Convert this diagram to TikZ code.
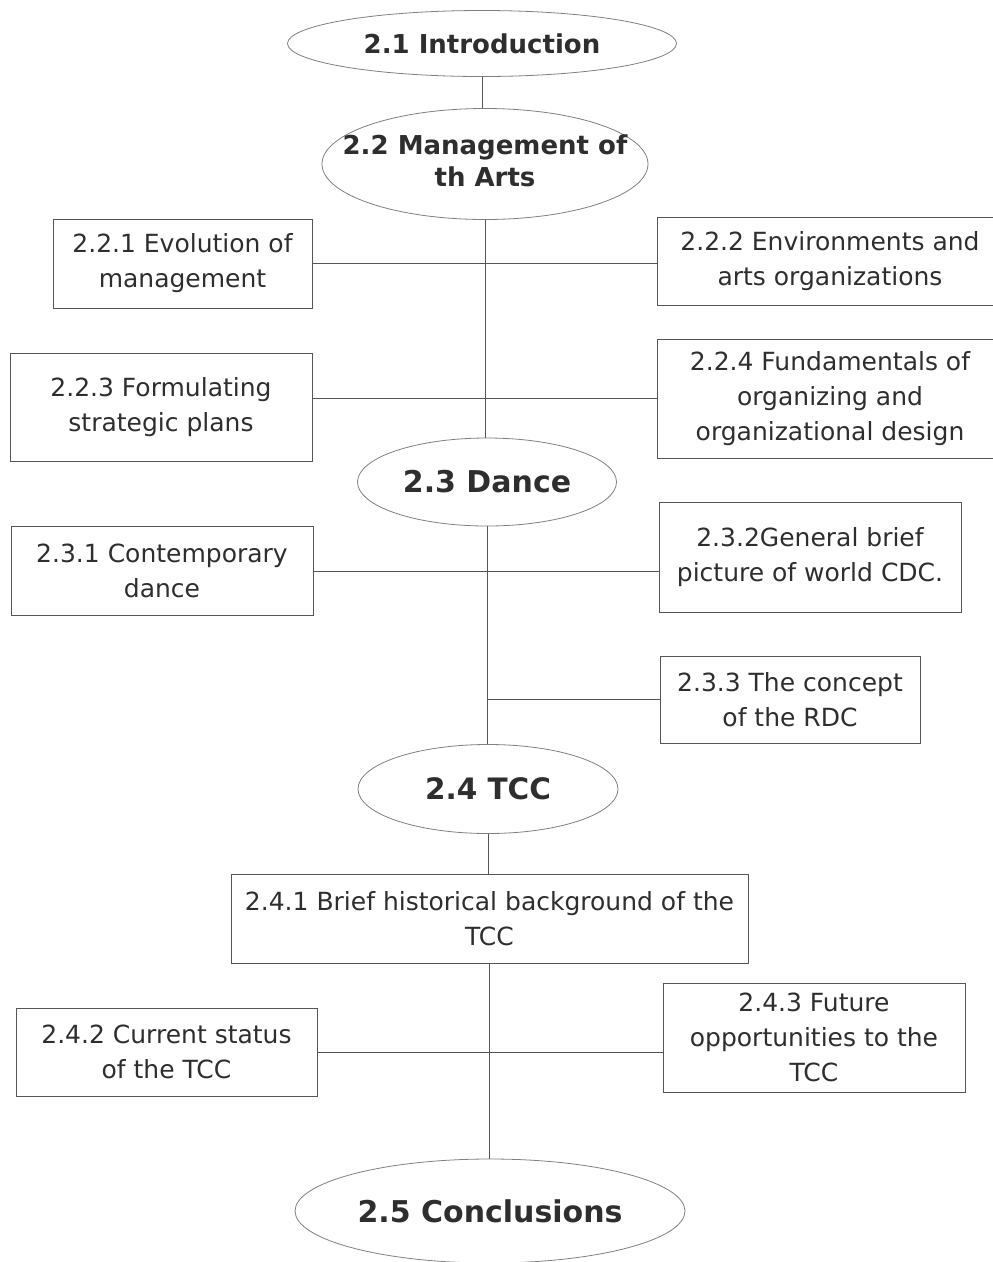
\documentclass[tikz,border=0pt]{standalone}
\usepackage{fontspec}
\setmainfont{DejaVu Sans}
\usetikzlibrary{shapes.geometric}
\definecolor{txt}{HTML}{2E2E2E}
\definecolor{ln}{HTML}{555555}
\definecolor{ell}{HTML}{808080}
\begin{document}
\begin{tikzpicture}[x=1pt,y=-1pt,
  boxnode/.style={draw=ln, line width=0.9pt, rectangle, inner sep=0pt, align=center, text=txt, font=\fontsize{25}{35}\selectfont},
  ovalnode/.style={draw=ell, line width=0.8pt, ellipse, inner sep=0pt, text=txt},
  conn/.style={draw=ln, line width=0.9pt}]
\clip (0,0) rectangle (993,1262);
\fill[white] (0,0) rectangle (993,1262);

% ellipses
\node[ovalnode, minimum width=389pt, minimum height=66pt, font=\bfseries\fontsize{26}{33}\selectfont] (e21) at (482,43.5) {\makebox[0pt]{2.1 Introduction}};
\node[ovalnode, minimum width=326pt, minimum height=111pt, font=\bfseries\fontsize{26}{33}\selectfont] (e22) at (485,164) {\makebox[0pt]{\begin{tabular}{@{}c@{}}2.2 Management of\\[-1pt] th Arts\end{tabular}}};
\node[ovalnode, minimum width=259pt, minimum height=88pt, font=\bfseries\fontsize{30}{36}\selectfont] (e23) at (487,482) {\makebox[0pt]{2.3 Dance}};
\node[ovalnode, minimum width=260pt, minimum height=89pt, font=\bfseries\fontsize{29.5}{36}\selectfont] (e24) at (488,789) {\makebox[0pt]{2.4 TCC}};
\node[ovalnode, minimum width=390pt, minimum height=104pt, font=\bfseries\fontsize{30}{36}\selectfont] (e25) at (490,1211) {\makebox[0pt]{2.5 Conclusions}};

% boxes
\node[boxnode, minimum width=259pt, minimum height=89pt] (b221) at (182.5,263.5) {2.2.1 Evolution of\\management};
\node[boxnode, minimum width=346pt, minimum height=88pt] (b222) at (830,261) {2.2.2 Environments and\\arts organizations};
\node[boxnode, minimum width=302pt, minimum height=108pt] (b223) at (161,407) {2.2.3 Formulating\\strategic plans};
\node[boxnode, minimum width=346pt, minimum height=119pt] (b224) at (830,398.5) {2.2.4 Fundamentals of\\organizing and\\organizational design};
\node[boxnode, minimum width=302pt, minimum height=89pt] (b231) at (162,571) {2.3.1 Contemporary\\dance};
\node[boxnode, minimum width=302pt, minimum height=110pt] (b232) at (810,557) {2.3.2General brief\\picture of world CDC.};
\node[boxnode, minimum width=260pt, minimum height=87pt] (b233) at (790,699.5) {2.3.3 The concept\\of the RDC};
\node[boxnode, minimum width=517pt, minimum height=89pt] (b241) at (489.5,918.5) {2.4.1 Brief historical background of the\\TCC};
\node[boxnode, minimum width=301pt, minimum height=88pt] (b242) at (166.5,1052) {2.4.2 Current status\\of the TCC};
\node[boxnode, minimum width=302pt, minimum height=109pt] (b243) at (814,1037.5) {2.4.3 Future\\opportunities to the\\TCC};

% connectors
\draw[conn] (e21.south) -- (e21.south |- e22.north);
\draw[conn] (e22.south) -- (e22.south |- e23.north);
\draw[conn] (b221.east) -- (b221.east -| b222.west);
\draw[conn] (b224.west) -- (b224.west -| b223.east);
\draw[conn] (e23.south) -- (e23.south |- e24.north);
\draw[conn] (b231.east) -- (b231.east -| b232.west);
\draw[conn] (b233.west) -- (b233.west -| e23.south);
\draw[conn] (e24.south) -- (e24.south |- b241.north);
\draw[conn] (b241.south) -- (b241.south |- e25.north);
\draw[conn] (b242.east) -- (b242.east -| b243.west);
\end{tikzpicture}
\end{document}
